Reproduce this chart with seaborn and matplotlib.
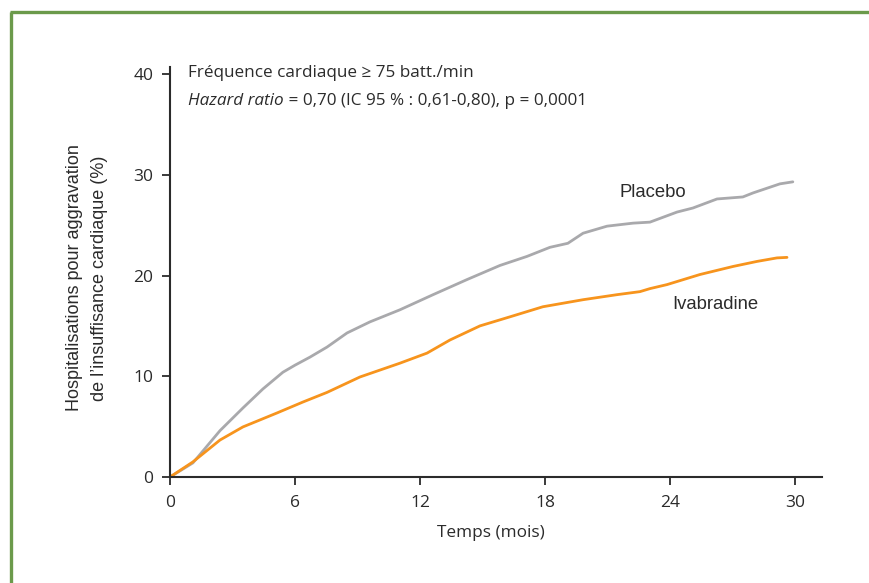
import matplotlib
matplotlib.use("Agg")
import matplotlib.pyplot as plt
import seaborn as sns
import pandas as pd
from matplotlib.lines import Line2D

# ---- data ----
months_placebo = [0, 1.1, 2.4, 3.5, 4.46, 5.42, 6.0, 6.72, 7.54, 8.5, 9.6, 11.04, 12.63,
                  14.26, 15.84, 17.14, 18.24, 19.1, 19.83, 20.98, 22.23, 23.04, 24.34,
                  25.1, 26.26, 27.5, 27.99, 29.28, 29.9]
placebo = [0, 1.4, 4.6, 6.85, 8.74, 10.4, 11.1, 11.9, 12.9, 14.3, 15.4, 16.6, 18.1,
           19.6, 21.0, 21.9, 22.8, 23.2, 24.2, 24.9, 25.2, 25.3, 26.3,
           26.7, 27.6, 27.8, 28.2, 29.1, 29.3]
months_ivabradine = [0, 1.1, 2.4, 3.5, 5.14, 6.39, 7.54, 9.12, 11.04, 12.34, 13.44, 14.88,
                     16.32, 17.9, 19.83, 21.46, 22.56, 23.04, 23.86, 25.44, 27.03, 28.18,
                     29.14, 29.62]
ivabradine = [0, 1.5, 3.67, 4.97, 6.36, 7.45, 8.4, 9.93, 11.3, 12.3, 13.6, 15.0,
              15.9, 16.9, 17.6, 18.1, 18.4, 18.7, 19.1, 20.1, 20.9, 21.4,
              21.75, 21.8]
series_names = ["Placebo", "Ivabradine"]
x_ticks = [0, 6, 12, 18, 24, 30]
y_ticks = [0, 10, 20, 30, 40]

df = pd.concat([
    pd.DataFrame({"Temps": months_placebo, "Valeur": placebo, "Groupe": series_names[0]}),
    pd.DataFrame({"Temps": months_ivabradine, "Valeur": ivabradine, "Groupe": series_names[1]}),
], ignore_index=True)

sns.set_theme(style="white")
plt.rcParams["font.family"] = ["Open Sans", "DejaVu Sans"]

fig = plt.figure(figsize=(8.7, 5.83), dpi=100)
ax = fig.add_axes([170/870, 1-477/583, (822-170)/870, 410/583])

sns.lineplot(data=df, x="Temps", y="Valeur", hue="Groupe", ax=ax,
             palette={"Placebo": "#a9a9ac", "Ivabradine": "#f7941d"},
             linewidth=2.0, legend=False, sort=False, estimator=None)
for ln in ax.get_lines():
    ln.set_solid_joinstyle("round")
    ln.set_solid_capstyle("round")

ax.set_xlim(0, 31.3)
ax.set_ylim(0, 40.7)
ax.set_xticks(x_ticks)
ax.set_yticks(y_ticks)
ax.set_xticklabels([str(t) for t in x_ticks])
ax.set_yticklabels([str(t) for t in y_ticks])
ax.set_xlabel("")
ax.set_ylabel("")
for s in ["top", "right"]:
    ax.spines[s].set_visible(False)
for s in ["left", "bottom"]:
    ax.spines[s].set_color("#2b2b2b")
    ax.spines[s].set_linewidth(1.5)
ax.tick_params(axis="both", direction="out", length=6, width=1.3, color="#2b2b2b",
               labelsize=12.5, labelcolor="#2b2b2b", bottom=True, left=True)
ax.tick_params(axis="x", pad=7)
ax.tick_params(axis="y", pad=6)

# annotations
ax.text(0.86, 40.1, "Fréquence cardiaque ≥ 75 batt./min", fontsize=12.3,
        color="#2b2b2b", va="center", ha="left")
t1 = ax.text(0.86, 37.3, "Hazard ratio", fontsize=12.3, style="italic",
             color="#2b2b2b", va="center", ha="left")
ax.annotate(" = 0,70 (IC 95 % : 0,61-0,80), p = 0,0001", xy=(1, 0), xycoords=t1,
            fontsize=12.3, color="#2b2b2b", va="bottom", ha="left")

ax.text(21.6, 28.2, "Placebo", fontsize=13.3, family="Liberation Sans",
        color="#2b2b2b", va="center", ha="left")
ax.text(24.1, 17.1, "Ivabradine", fontsize=13.3, family="Liberation Sans",
        color="#2b2b2b", va="center", ha="left")

fig.text(87/870, 1-278/583,
         "Hospitalisations pour aggravation\nde l\u2019insuffisance cardiaque (%)",
         rotation=90, ha="center", va="center", multialignment="center",
         fontsize=13, family="Liberation Sans", color="#2b2b2b", linespacing=1.55)
fig.text(491/870, 1-533/583, "Temps (mois)", ha="center", va="center",
         fontsize=12.4, color="#2b2b2b")

# green frame (left and top edges)
gc = "#6b9a4b"
fig.add_artist(Line2D([11.5/870, 11.5/870], [0, 1-11.5/583], transform=fig.transFigure,
                      color=gc, linewidth=2.4, solid_capstyle="butt"))
fig.add_artist(Line2D([10/870, 1], [1-11.5/583, 1-11.5/583], transform=fig.transFigure,
                      color=gc, linewidth=2.4, solid_capstyle="butt"))

fig.savefig("out.png", dpi=100)
